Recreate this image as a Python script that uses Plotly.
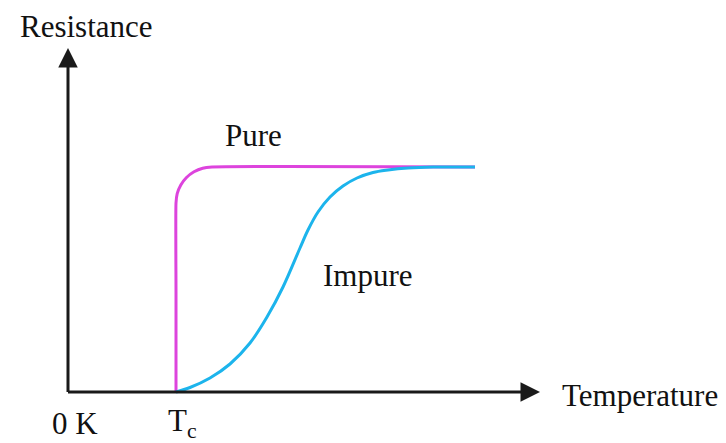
import plotly.graph_objects as go

# Schematic data (arbitrary units; origin at 0 K)
pure_T = [108, 108, 108, 109.2, 112.8, 118.5, 126, 134.7, 144, 407]
pure_R = [0, 100, 189, 198.3, 207, 214.5, 220.2, 223.8, 225, 225]

impure_T = [108, 122, 142, 162, 182, 199, 215, 232, 240, 250, 262, 275, 289, 305, 320, 340, 365, 407]
impure_R = [0, 4.5, 14, 28, 49, 75, 105, 144, 162, 180, 195, 206, 214, 219.5, 222, 224, 225, 225]

Tc = 108
x_axis_end = 472
y_axis_end = 344

FONT = "Liberation Serif, Times New Roman, serif"
TXT = 31

fig = go.Figure()
fig.add_trace(go.Scatter(x=pure_T, y=pure_R, mode="lines", line=dict(color="#dd44dd", width=3, shape="spline", smoothing=0.5), hoverinfo="skip"))
fig.add_trace(go.Scatter(x=impure_T, y=impure_R, mode="lines", line=dict(color="#1cb4ec", width=3, shape="spline", smoothing=1.0), hoverinfo="skip"))

ann = []
# axes with arrowheads
ann.append(dict(x=0, y=y_axis_end, ax=0, ay=-1.5, xref="x", yref="y", axref="x", ayref="y",
                showarrow=True, arrowhead=2, arrowsize=1.3, arrowwidth=3, arrowcolor="#1a1a1a", text=""))
ann.append(dict(x=x_axis_end, y=0, ax=-1.5, ay=0, xref="x", yref="y", axref="x", ayref="y",
                showarrow=True, arrowhead=2, arrowsize=1.3, arrowwidth=3, arrowcolor="#1a1a1a", text=""))

def label(text, x, y, xanchor="center", yanchor="middle", size=TXT):
    ann.append(dict(x=x, y=y, xref="x", yref="y", text=text, showarrow=False, xanchor=xanchor, yanchor=yanchor,
                    borderpad=0, font=dict(family=FONT, size=size, color="#111111")))

label("Resistance", 18, 384, yanchor="top", size=31)
label("Pure", 185, 257)
label("Impure", 300, 117)
label("0 K", 7, -31)
label("T<sub>c</sub>", Tc + 6, -31)
label("Temperature", 493, -3, xanchor="left")

# page body has an 8px margin, so ranges are offset to keep the origin at the same spot
fig.update_layout(
    width=726, height=443,
    margin=dict(l=0, r=0, t=0, b=0),
    paper_bgcolor="white", plot_bgcolor="white",
    showlegend=False,
    annotations=ann,
    xaxis=dict(range=[-60, 666], visible=False, fixedrange=True),
    yaxis=dict(range=[-59, 384], visible=False, fixedrange=True),
)

fig.write_html("out.html")
